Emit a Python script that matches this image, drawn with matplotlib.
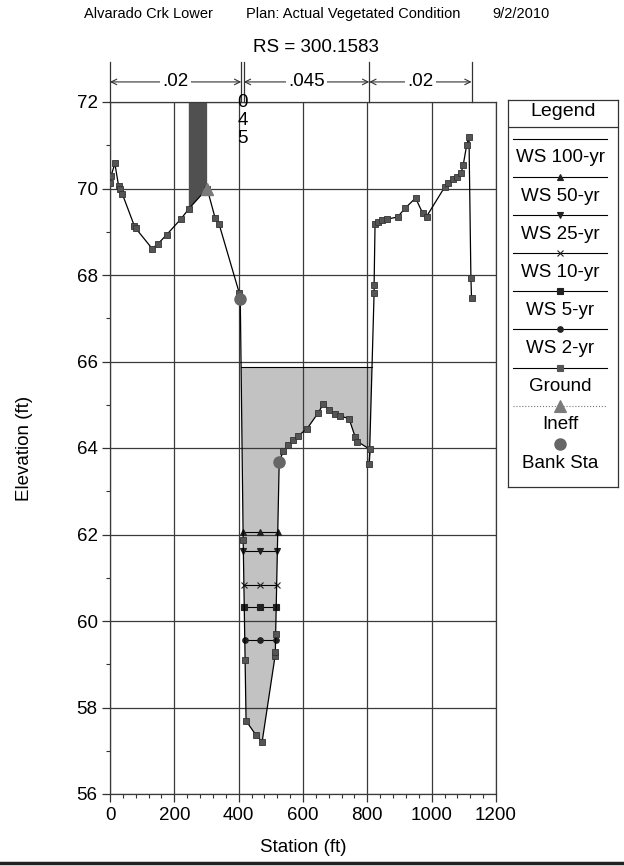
import numpy as np
import matplotlib.pyplot as plt
from matplotlib.lines import Line2D
import matplotlib.transforms as mtransforms

plt.rcParams['font.family'] = ['Liberation Sans', 'DejaVu Sans']

# cross section RS 300.1583, station / elevation in ft
ground_sta = [0, 3, 15, 27, 32, 38, 76, 80, 131, 149, 176, 221, 245, 302, 327, 339,
              402, 405, 414, 420, 423, 454, 473, 513, 514, 515, 526, 539, 554, 570,
              585, 613, 648, 663, 682, 700, 715, 743, 762, 769, 808, 806, 821, 821,
              824, 834, 846, 860, 894, 917, 950, 972, 984, 1041, 1052, 1067, 1078,
              1091, 1098, 1109, 1116, 1122, 1124]
ground_elev = [70.12, 70.28, 70.58, 70.05, 69.98, 69.88, 69.13, 69.08, 68.61, 68.72,
               68.93, 69.30, 69.53, 70.00, 69.31, 69.18, 67.58, 67.45, 61.87, 59.10,
               57.69, 57.36, 57.21, 59.18, 59.29, 59.71, 63.68, 63.93, 64.07, 64.18,
               64.28, 64.45, 64.82, 65.02, 64.87, 64.79, 64.74, 64.68, 64.26, 64.15,
               63.97, 63.62, 67.58, 67.77, 69.18, 69.23, 69.27, 69.29, 69.34, 69.54,
               69.78, 69.43, 69.35, 70.04, 70.12, 70.22, 70.27, 70.35, 70.54, 71.01,
               71.19, 67.92, 67.46]

bank_sta = [405, 526]
bank_elev = [67.45, 63.68]

ineff_sta = [245, 302]
ineff_elev = 73.0

ws_names = ['WS 100-yr', 'WS 50-yr', 'WS 25-yr', 'WS 10-yr', 'WS 5-yr', 'WS 2-yr']
ws_elev = [65.87, 62.05, 61.63, 60.83, 60.33, 59.55]
ws_marker = ['', '^', 'v', 'x', 's', 'o']

n_breaks = [0, 408, 416, 806, 1124]
n_vals = ['.02', '.045', '.045', '.02']

gx = np.array(ground_sta, dtype=float)
gy = np.array(ground_elev, dtype=float)
low = int(np.argmin(gy))


def crossing(elev, step):
    # walk from the thalweg until the ground rises above elev
    i = low
    while gy[i + step] < elev:
        i += step
    j = i + step
    t = (elev - gy[i]) / (gy[j] - gy[i])
    return i, gx[i] + t * (gx[j] - gx[i])


fig = plt.figure(figsize=(6.24, 8.66), dpi=100)
ax = fig.add_axes([110 / 624, 72 / 866, 386 / 624, 692 / 866])

# wetted area under the highest water surface
il, xl = crossing(ws_elev[0], -1)
ir, xr = crossing(ws_elev[0], 1)
px = [xl] + list(gx[il + 1:ir]) + [xr]
py = [ws_elev[0]] + list(gy[il + 1:ir]) + [ws_elev[0]]
ax.fill(px, py, color='#c2c2c2', zorder=1, lw=0)

# ineffective flow area
a = ground_sta.index(ineff_sta[0])
b = ground_sta.index(ineff_sta[1])
fx = [gx[a]] + list(gx[a:b + 1]) + [gx[b]]
fy = [ineff_elev] + list(gy[a:b + 1]) + [ineff_elev]
ax.fill(fx, fy, color='#505050', zorder=2, lw=0)

for name, elev, mk in zip(ws_names, ws_elev, ws_marker):
    _, x0 = crossing(elev, -1)
    _, x1 = crossing(elev, 1)
    ax.plot([x0, (x0 + x1) / 2, x1], [elev] * 3, color='black', lw=0.8,
            marker=mk or None, ms=4, mfc='#222222', mec='#222222', mew=0.8, zorder=4)

ax.plot(gx, gy, color='black', lw=0.9, marker='s', ms=5, mfc='#555555',
        mec='#333333', mew=0.6, zorder=5)
ax.plot(ineff_sta[1], gy[b], marker='^', ms=8, color='#7a7a7a', ls='none', zorder=6)
ax.plot(bank_sta, bank_elev, marker='o', ms=8, color='#666666', ls='none', zorder=6)

ax.set_xlim(0, 1200)
ax.set_ylim(56, 72)
ax.set_xticks(np.arange(0, 1201, 200))
ax.set_yticks(np.arange(56, 73, 2))
ax.set_xticks(np.arange(0, 1201, 40), minor=True)
ax.set_yticks(np.arange(56, 73, 1), minor=True)
ax.tick_params(which='major', direction='out', length=6, width=0.9, labelsize=13.5,
               color='#333333', pad=3)
ax.tick_params(which='minor', direction='out', length=3, width=0.8, color='#333333')
ax.grid(True, which='major', color='#3a3a3a', lw=0.9)
for s in ax.spines.values():
    s.set_color('#3a3a3a')
    s.set_linewidth(0.9)
ax.set_xlabel('Station (ft)', fontsize=13.5, labelpad=11)
ax.set_ylabel('Elevation (ft)', fontsize=13.5, labelpad=31)

# Manning's n segments above the plot
trans = mtransforms.blended_transform_factory(ax.transData, ax.transAxes)
for s in n_breaks:
    ax.plot([s, s], [1.0, 1.058], transform=trans, color='#333333', lw=0.9, clip_on=False)
for k, val in enumerate(n_vals):
    s0, s1 = n_breaks[k], n_breaks[k + 1]
    if s1 - s0 < 40:
        ax.text((s0 + s1) / 2, 1.011, val.replace('.', '').replace('', '\n').strip(),
                transform=trans, ha='center', va='top', fontsize=13.5, linespacing=1.08,
                zorder=7)
        continue
    ax.annotate('', xy=(s1, 1.029), xytext=(s0, 1.029), xycoords=trans, textcoords=trans,
                arrowprops=dict(arrowstyle='<->', lw=0.8, color='#333333',
                                shrinkA=0, shrinkB=0), annotation_clip=False)
    ax.text((s0 + s1) / 2, 1.029, val, transform=trans, ha='center', va='center',
            fontsize=13.5, bbox=dict(fc='white', ec='none', pad=1.5))

fig.text(84 / 624, 1 - 14 / 866, 'Alvarado Crk Lower', fontsize=10.5, va='center')
fig.text(246 / 624, 1 - 14 / 866, 'Plan: Actual Vegetated Condition', fontsize=10.5,
         va='center')
fig.text(492 / 624, 1 - 14 / 866, '9/2/2010', fontsize=10.5, va='center')
fig.text(316 / 624, 1 - 47 / 866, 'RS = 300.1583', fontsize=13.5, ha='center', va='center')

# legend box, drawn in pixel units
lg = fig.add_axes([508 / 624, 1 - 487 / 866, 110 / 624, 387 / 866])
lg.set_xlim(508, 618)
lg.set_ylim(487, 100)
lg.set_xticks([])
lg.set_yticks([])
for s in lg.spines.values():
    s.set_color('#333333')
    s.set_linewidth(0.9)
lg.text(563, 112, 'Legend', ha='center', va='center', fontsize=14)
lg.plot([508, 618], [127, 127], color='#333333', lw=0.9)

leg_entries = [(n, m, 4, '#222222', '-') for n, m in zip(ws_names, ws_marker)]
leg_entries += [('Ground', 's', 4, '#555555', '-'), ('Ineff', '^', 8, '#7a7a7a', ':')]
y = 139
for name, mk, ms, mc, ls in leg_entries:
    lg.add_line(Line2D([513, 607], [y, y], color='black' if ls == '-' else '#777777',
                       lw=0.8, ls=ls))
    if mk:
        lg.plot(560, y, marker=mk, ms=ms, color=mc, mew=0.8)
    lg.text(560, y + 19, name, ha='center', va='center', fontsize=13.5)
    y += 38.1
lg.plot(560, 444, marker='o', ms=8, color='#666666')
lg.text(560, 463, 'Bank Sta', ha='center', va='center', fontsize=13.5)

fig.add_artist(Line2D([0, 1], [3.5 / 866, 3.5 / 866], transform=fig.transFigure,
                      color='#222222', lw=2.5))

fig.savefig('out.png', dpi=100)
